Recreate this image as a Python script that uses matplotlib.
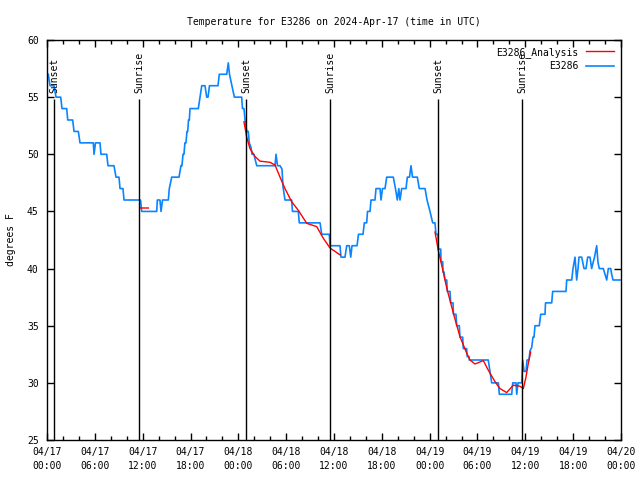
import matplotlib
matplotlib.use("Agg")
import matplotlib.pyplot as plt
import numpy as np
from matplotlib.ticker import MultipleLocator

plt.rcParams['font.family'] = ['DejaVu Sans Mono']

# hours since 2024-04-17 00:00 UTC
obs_hours = [0.16, 0.38, 0.88, 1.13, 1.72, 1.88, 2.47, 2.60, 3.22, 3.39, 3.93, 4.14, 5.81, 5.90, 6.08,
             6.65, 6.77, 7.49, 7.65, 8.40, 8.66, 9.03, 9.16, 9.53, 9.66, 11.73, 11.88, 13.76, 13.84,
             14.17, 14.30, 14.49, 15.22, 15.34, 15.64, 16.56, 16.80, 16.93, 17.06, 17.18, 17.30, 17.43,
             17.56, 17.65, 17.75, 17.85, 17.94, 18.98, 19.19, 19.41, 19.82, 20.03, 20.20, 20.38, 21.45,
             21.61, 22.54, 22.74, 22.89, 23.20, 23.50, 24.42, 24.52, 24.71, 24.84, 25.05, 25.25, 25.37,
             25.59, 25.72, 25.96, 26.09, 26.31, 28.60, 28.73, 28.91, 29.23, 29.48, 29.60, 29.85, 30.69,
             30.79, 31.52, 31.65, 34.25, 34.46, 35.41, 35.50, 36.75, 36.88, 37.38, 37.59, 37.92, 38.10,
             38.26, 38.89, 39.07, 39.64, 39.80, 40.10, 40.20, 40.52, 40.64, 41.14, 41.27, 41.77, 41.90,
             42.08, 42.40, 42.61, 43.44, 43.71, 43.94, 44.13, 44.28, 44.49, 45.03, 45.20, 45.47, 45.66,
             45.85, 46.45, 46.70, 47.42, 47.67, 48.04, 48.38, 48.67, 48.79, 49.04, 49.08, 49.39, 49.42,
             49.64, 49.67, 49.80, 49.92, 50.14, 50.21, 50.55, 50.64, 50.93, 50.99, 51.30, 51.39, 51.72,
             51.80, 52.14, 52.22, 52.64, 52.71, 52.93, 52.97, 55.35, 55.57, 55.78, 56.61, 56.74, 58.29,
             58.42, 58.83, 58.92, 59.08, 59.55, 59.67, 59.84, 60.09, 60.21, 60.46, 60.58, 60.80, 60.96,
             61.09, 61.21, 61.75, 61.93, 62.47, 62.53, 63.31, 63.43, 65.10, 65.19, 65.82, 65.98, 66.23,
             66.44, 66.61, 66.73, 67.07, 67.36, 67.61, 67.82, 68.11, 68.32, 68.49, 68.68, 68.95, 69.12,
             69.28, 69.78, 69.99, 70.21, 70.41, 70.71, 70.83, 71.00, 71.88]
obs_temps = [57, 56, 56, 55, 55, 54, 54, 53, 53, 52, 52, 51, 51, 50, 51,
             51, 50, 50, 49, 49, 48, 48, 47, 47, 46, 46, 45, 45, 46,
             46, 45, 46, 46, 47, 48, 48, 49, 49, 50, 50, 51, 51,
             52, 52, 53, 53, 54, 54, 55, 56, 56, 55, 55, 56, 56,
             57, 57, 58, 57, 56, 55, 55, 54, 54, 53, 52, 52, 51,
             50.6, 50, 50, 49.6, 49, 49, 50, 49, 49, 48.7, 47.2, 46, 46,
             45, 45, 44, 44, 43, 43, 42, 42, 41, 41, 42, 42, 41,
             42, 42, 43, 43, 44, 44, 45, 45, 46, 46, 47, 47, 46,
             47, 47, 48, 48, 47, 46, 47, 46, 47, 47, 48, 48, 49,
             48, 48, 47, 47, 46, 45, 44, 44, 43, 43, 41.7, 41.7, 40.6,
             40.6, 39.7, 39.7, 39, 39, 38, 38, 37, 37, 36, 36, 35, 35,
             34, 34, 33, 33, 32.3, 32.3, 32, 32, 31, 30, 30, 29, 29,
             30, 30, 29, 30, 30, 32, 31, 31, 32, 32, 32.8, 33.1, 34,
             34, 35, 35, 36, 36, 37, 37, 38, 38, 39, 39, 40, 41,
             39, 40, 41, 41, 40, 40, 41, 41, 40, 40.5, 41, 42, 40.5,
             40, 40, 39.5, 39, 40, 40, 39.5, 39, 39]

ana_hours = [11.67, 12.71, np.nan,
             24.71, 25.05, 25.46, 26.09, 26.72, 27.97, 28.60, 29.23, 29.85, 30.69, 31.52, 32.58,
             33.83, 34.66, 35.50, 36.34, 36.75, np.nan,
             48.67, 49.08, 49.64, 50.14, 50.97, 51.80, 52.64, 53.06, 53.69, 54.73, 55.36, 56.20,
             56.82, 57.66, 58.49, 59.33, 59.75, 60.08, 60.37, 60.67]
ana_temps = [45.3, 45.3, np.nan,
             52.85, 51.5, 50.5, 49.8, 49.4, 49.3, 49.06, 48.0, 47.0, 45.85, 45.1, 43.96,
             43.67, 42.65, 41.8, 41.4, 41.2, np.nan,
             43.2, 41.6, 39.9, 38.3, 36.1, 34.04, 32.6, 32.0, 31.65, 31.95, 31.1, 30.1,
             29.5, 29.15, 29.8, 29.7, 29.5, 30.5, 31.7, 32.7]

sun_hours = [0.88, 11.58, 24.96, 35.50, 49.08, 59.61]
sun_labels = ["Sunset", "Sunrise", "Sunset", "Sunrise", "Sunset", "Sunrise"]

tick_hours = list(range(0, 73, 6))
tick_labels = ["04/17\n00:00", "04/17\n06:00", "04/17\n12:00", "04/17\n18:00",
               "04/18\n00:00", "04/18\n06:00", "04/18\n12:00", "04/18\n18:00",
               "04/19\n00:00", "04/19\n06:00", "04/19\n12:00", "04/19\n18:00",
               "04/20\n00:00"]

fs = 7
fig = plt.figure(figsize=(6.4, 4.8), dpi=100)
ax = fig.add_axes([47 / 640, 40 / 480, 574 / 640, 400 / 480])

blue, = ax.plot(obs_hours, obs_temps, color='#0a85ff', lw=1.2, label='E3286')
red, = ax.plot(ana_hours, ana_temps, color='#ff0000', lw=1.0, label='E3286_Analysis')

ax.vlines(sun_hours, 25, 54.8, color='black', lw=1)
for h, lab in zip(sun_hours, sun_labels):
    ax.text(h, 55.4, lab, rotation=90, ha='center', va='bottom', fontsize=fs)

ax.set_xlim(0, 72)
ax.set_ylim(25, 60)
ax.set_xticks(tick_hours)
ax.set_xticklabels(tick_labels, linespacing=1.45)
ax.xaxis.set_minor_locator(MultipleLocator(2))
ax.yaxis.set_major_locator(MultipleLocator(5))
ax.tick_params(which='both', direction='in', top=True, right=True, labelsize=fs, width=1)
ax.tick_params(which='major', length=5)
ax.tick_params(which='minor', length=3)
ax.tick_params(axis='x', pad=5)
ax.tick_params(axis='y', pad=6)
for s in ax.spines.values():
    s.set_linewidth(1)

ax.set_ylabel("degrees F", fontsize=fs, labelpad=8)
ax.set_title("Temperature for E3286 on 2024-Apr-17 (time in UTC)", fontsize=fs, pad=11)

ax.legend(handles=[red, blue], loc='upper right', frameon=False, markerfirst=False,
          fontsize=fs, handlelength=2.9, handletextpad=0.8, labelspacing=0.35,
          borderaxespad=0.3, borderpad=0.4)

fig.savefig('out.png', dpi=100)
